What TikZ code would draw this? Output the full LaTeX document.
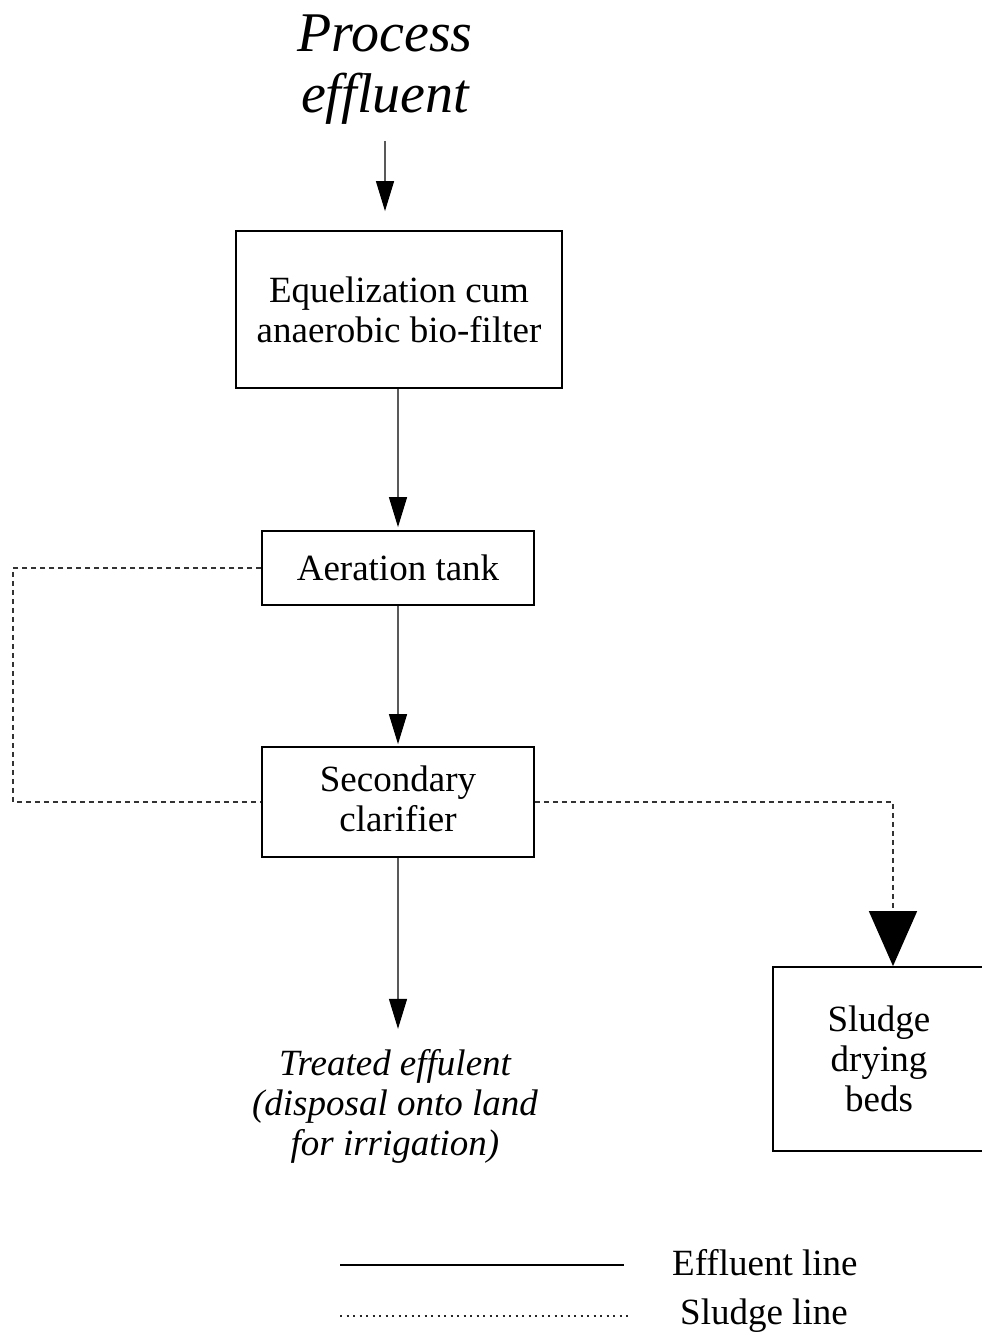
\documentclass[tikz,border=0pt]{standalone}
\usepackage{fontspec}
\setmainfont{Liberation Serif}
\usetikzlibrary{arrows.meta}
\begin{document}
\begin{tikzpicture}[x=1pt,y=-1pt,
  box/.style={draw=black,line width=1.8pt,inner sep=0pt,align=center,
    font=\fontsize{37}{40}\selectfont},
  lbl/.style={inner sep=0pt,align=center},
  eff/.style={draw=black!65,line width=1.3pt,-{Triangle[length=30pt,width=18pt,color=black]}},
  sludge/.style={draw=black!80,line width=1.6pt,dash pattern=on 5pt off 4pt},
  legtext/.style={inner sep=0pt,anchor=west,font=\fontsize{37}{40}\selectfont}]
\useasboundingbox (0,0) rectangle (982,1336);
\clip (0,0) rectangle (982,1336);
\fill[white] (0,0) rectangle (982,1336);

\node[lbl,font=\fontsize{56}{61}\selectfont\itshape] (proc) at (385,70) {Process\\effluent};
\node[box,minimum width=326pt,minimum height=157pt] (eq) at (399,309.5) {Equelization cum\\anaerobic bio-filter};
\node[box,minimum width=272pt,minimum height=74pt] (aer) at (398,568) {Aeration tank};
\node[box,minimum width=272pt,minimum height=110pt] (sec) at (398,802) {Secondary\\clarifier\rule{0pt}{0pt}\vspace*{6pt}};
\node[lbl,font=\fontsize{37}{40}\selectfont\itshape] (treat) at (395,1106) {Treated effulent\\(disposal onto land\\for irrigation)};
\node[box,minimum width=212pt,minimum height=184pt] (sl) at (879,1059) {Sludge\\drying\\beds};

\coordinate (lx) at (13,0);
\coordinate (rx) at (893,0);

\draw[eff,shorten <=16pt,shorten >=19pt] (proc.south) -- (proc.south |- eq.north);
\draw[eff,shorten >=3pt] (aer.north |- eq.south) -- (aer.north);
\draw[eff,shorten >=2pt] (aer.south) -- (sec.north);
\draw[eff,shorten >=20pt] (sec.south) -- (sec.south |- treat.north);

\draw[sludge] (aer.west) -- (lx |- aer.west) -- (lx |- sec.west) -- (sec.west);
\draw[sludge,-{Triangle[length=55pt,width=48pt,color=black]}] (sec.east) -- (rx |- sec.east) -- (rx |- sl.north);

% legend
\coordinate (l1a) at (340,1265);
\coordinate (l1b) at (624,1265);
\coordinate (l2a) at (340,1316);
\coordinate (l2b) at (632,1316);
\draw[black,line width=1.6pt] (l1a) -- (l1b);
\draw[black!85,line width=2pt,dash pattern=on 2pt off 4.5pt] (l2a) -- (l2b);
\node[legtext] (leg1) at (672,1263) {Effluent line};
\node[legtext] (leg2) at (680,1316) {Sludge line};
\end{tikzpicture}
\end{document}
